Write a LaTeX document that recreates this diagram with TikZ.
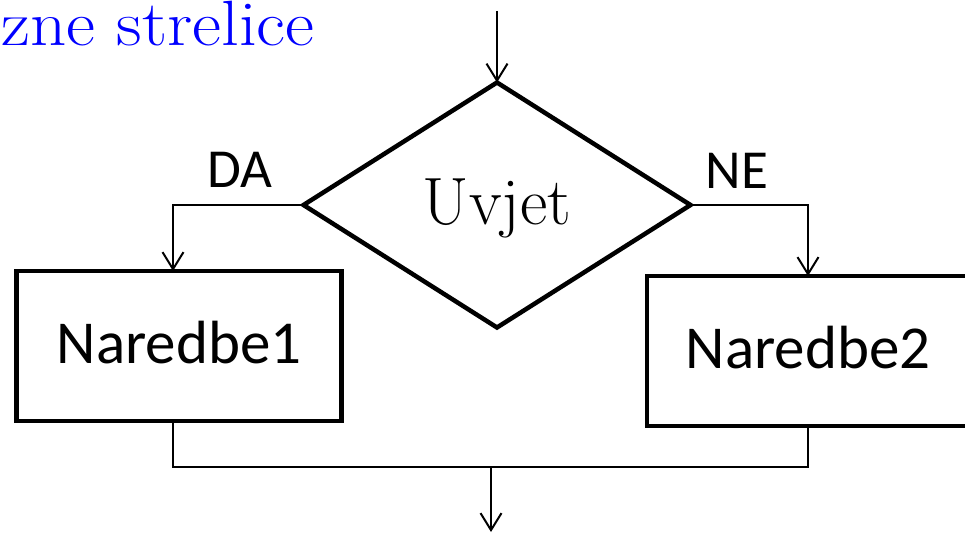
\documentclass[tikz,border=0pt]{standalone}
\usepackage{fontspec}
\usepackage{graphicx}
\newfontfamily\calibri{Carlito}
\usetikzlibrary{shapes.geometric,arrows.meta}
\begin{document}
\begin{tikzpicture}[x=1pt,y=-1pt,
  thinline/.style={line width=2pt},
  arr/.style={thinline,-{Straight Barb[length=17pt,width=21pt,line width=2pt]}},
  stepbox/.style={draw,line width=4.5pt,rectangle,inner sep=0pt,outer sep=0pt,
     font=\calibri\fontsize{61}{70}\selectfont,text height=40pt,text depth=6pt},
  decision/.style={draw,line width=4.5pt,diamond,inner sep=0pt,outer sep=0pt,
     minimum width=387pt,minimum height=245pt,
     font=\fontsize{67}{76}\selectfont,text height=46pt,text depth=8pt},
  lbl/.style={font=\calibri\fontsize{55}{64}\selectfont,anchor=base,inner sep=0pt}]
\useasboundingbox (0,0) rectangle (965,532);
\clip (0,0) rectangle (965,532);
% title
\node[anchor=base west,inner sep=0pt,text=blue,font=\fontsize{64}{72}\selectfont] (title) at (1,46) {\scalebox{1.11}[1]{zne strelice}};
% shapes
\node[decision] (dia) at (497,205) {Uvjet};
\node[stepbox,minimum width=325pt,minimum height=150pt] (b1) at (179,346) {Naredbe1};
\node[stepbox,minimum width=322pt,minimum height=150pt] (b2) at (808,351) {Naredbe2};
% labels
\node[lbl] (da) at (240,187) {DA};
\node[lbl] (ne) at (737,188) {NE};
% connectors
\coordinate (top) at (497,11);
\coordinate (m) at (491,467);
\coordinate (out) at (491,532);
\draw[arr] (top) -- (dia.north);
\draw[arr] (dia.west) -| ([xshift=-6pt]b1.north);
\draw[arr] (dia.east) -| (b2.north);
\draw[thinline] ([xshift=-6pt]b1.south) |- (m) -| (b2.south);
\draw[arr] (m) -- (out);
\end{tikzpicture}
\end{document}
